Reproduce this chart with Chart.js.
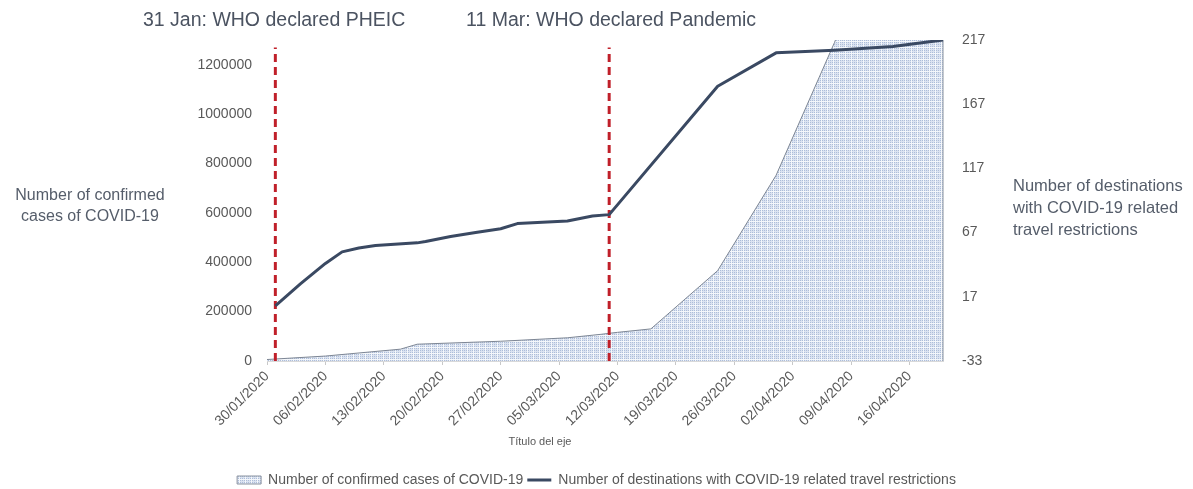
<!DOCTYPE html>
<html>
<head>
<meta charset="utf-8">
<script src="https://cdn.jsdelivr.net/npm/chart.js@4.4.1/dist/chart.umd.min.js"></script>
<style>
  html, body { margin: 0; padding: 0; background: #fff; }
  #wrap { width: 1193px; height: 489px; position: relative; }
</style>
</head>
<body>
<div id="wrap"><canvas id="chart"></canvas></div>
<script>
// daily categories of the date axis
const dates = [
    '30/01/2020', '31/01/2020',
    '01/02/2020', '02/02/2020', '03/02/2020', '04/02/2020', '05/02/2020', '06/02/2020', '07/02/2020',
    '08/02/2020', '09/02/2020', '10/02/2020', '11/02/2020', '12/02/2020', '13/02/2020', '14/02/2020',
    '15/02/2020', '16/02/2020', '17/02/2020', '18/02/2020', '19/02/2020', '20/02/2020', '21/02/2020',
    '22/02/2020', '23/02/2020', '24/02/2020', '25/02/2020', '26/02/2020', '27/02/2020', '28/02/2020',
    '29/02/2020',
    '01/03/2020', '02/03/2020', '03/03/2020', '04/03/2020', '05/03/2020', '06/03/2020', '07/03/2020',
    '08/03/2020', '09/03/2020', '10/03/2020', '11/03/2020', '12/03/2020', '13/03/2020', '14/03/2020',
    '15/03/2020', '16/03/2020', '17/03/2020', '18/03/2020', '19/03/2020', '20/03/2020', '21/03/2020',
    '22/03/2020', '23/03/2020', '24/03/2020', '25/03/2020', '26/03/2020', '27/03/2020', '28/03/2020',
    '29/03/2020', '30/03/2020', '31/03/2020',
    '01/04/2020', '02/04/2020', '03/04/2020', '04/04/2020', '05/04/2020', '06/04/2020', '07/04/2020',
    '08/04/2020', '09/04/2020', '10/04/2020', '11/04/2020', '12/04/2020', '13/04/2020', '14/04/2020',
    '15/04/2020', '16/04/2020', '17/04/2020', '18/04/2020', '19/04/2020', '20/04/2020'
];

// confirmed cases (left axis)
const casesDates = ['30/01/2020', '06/02/2020', '15/02/2020', '17/02/2020', '27/02/2020', '06/03/2020', '10/03/2020',
    '12/03/2020', '16/03/2020', '24/03/2020', '31/03/2020', '07/04/2020', '14/04/2020', '20/04/2020'];
const casesValues = [6000, 20000, 48000, 68000, 80000, 94000, 108000,
    116000, 130000, 366000, 752000, 1290000, 1900000, 2400000];

// destinations with travel restrictions (right axis)
const destDates = ['31/01/2020', '03/02/2020', '06/02/2020', '08/02/2020', '10/02/2020', '12/02/2020', '17/02/2020',
    '18/02/2020', '21/02/2020', '24/02/2020', '27/02/2020', '29/02/2020', '06/03/2020', '09/03/2020', '11/03/2020',
    '24/03/2020', '31/03/2020', '07/04/2020', '14/04/2020', '20/04/2020'];
const destValues = [10, 27, 43, 52, 55, 57, 59,
    60, 64, 67, 70, 74, 76, 80, 81,
    181, 207, 209, 212, 217];

// axis ticks
const leftTicks = [0, 200000, 400000, 600000, 800000, 1000000, 1200000];
const rightTicks = [-33, 17, 67, 117, 167, 217];

// event markers
const eventDates = ['31/01/2020', '11/03/2020'];
const eventTexts = ['31 Jan: WHO declared PHEIC', '11 Mar: WHO declared Pandemic'];
const eventTop = 1270000;

const casesLabel = 'Number of confirmed cases of COVID-19';
const destLabel = 'Number of destinations with COVID-19 related travel restrictions';
const leftTitle = ['Number of confirmed', 'cases of COVID-19'];
const rightTitle = ['Number of destinations', 'with COVID-19 related', 'travel restrictions'];
const xTitle = 'Título del eje';

const NAVY = '#3a4962';
const RED = '#c0202a';
const TEXT = '#595959';
const NOTE = '#4b5361';
const FONT = '"Liberation Sans", Arial, sans-serif';

Chart.defaults.font.family = FONT;

function makePattern() {
    const c = document.createElement('canvas');
    c.width = 6;
    c.height = 6;
    const g = c.getContext('2d');
    g.fillStyle = '#dbe3f1';
    g.fillRect(0, 0, 6, 6);
    g.fillStyle = '#adbdd9';
    for (let x = 0; x < 5; x += 2) {
        for (let y = 0; y < 5; y += 2) g.fillRect(x, y, 1, 1);
    }
    g.fillStyle = '#f4f7fb';
    g.fillRect(5, 0, 1, 6);
    g.fillRect(0, 5, 6, 1);
    return g.createPattern(c, 'repeat');
}
const dots = makePattern();

const toPoints = (xs, ys) => xs.map((d, i) => ({ x: d, y: ys[i] }));

const datasets = [
    {
        label: destLabel,
        data: toPoints(destDates, destValues),
        yAxisID: 'y1',
        borderColor: NAVY,
        backgroundColor: NAVY,
        borderWidth: 3,
        borderJoinStyle: 'round',
        pointRadius: 0,
        fill: false,
        order: 0
    },
    ...eventDates.map(d => ({
        label: 'event',
        data: [{ x: d, y: 0 }, { x: d, y: eventTop }],
        yAxisID: 'y',
        borderColor: RED,
        borderWidth: 3,
        borderDash: [8, 5],
        pointRadius: 0,
        fill: false,
        order: 1
    })),
    {
        label: casesLabel,
        data: toPoints(casesDates, casesValues),
        yAxisID: 'y',
        borderColor: '#7d8694',
        borderWidth: 1,
        backgroundColor: dots,
        pointRadius: 0,
        fill: 'origin',
        order: 2
    }
];

const textPlugin = {
    id: 'texts',
    afterLayout(chart) {
        // push the legend row a little lower, like the original
        chart.legend.top += 8;
        chart.legend.bottom += 8;
    },
    afterDatasetDraw(chart, args) {
        // closing vertical edge of the area
        if (args.meta.label !== casesLabel) return;
        const pts = args.meta.data;
        const last = pts[pts.length - 1];
        const ctx = chart.ctx;
        const area = chart.chartArea;
        ctx.save();
        ctx.strokeStyle = '#8a93a0';
        ctx.lineWidth = 1;
        ctx.beginPath();
        ctx.moveTo(last.x, Math.max(last.y, area.top));
        ctx.lineTo(last.x, chart.scales.y.getPixelForValue(0));
        ctx.stroke();
        ctx.restore();
    },
    afterDraw(chart) {
        const ctx = chart.ctx;
        ctx.save();
        ctx.textBaseline = 'middle';
        ctx.fillStyle = NOTE;
        ctx.font = '19.5px ' + FONT;
        ctx.textAlign = 'left';
        ctx.fillText(eventTexts[0], 143, 21);
        ctx.fillText(eventTexts[1], 466, 21);

        ctx.fillStyle = '#555d6a';
        ctx.font = '16px ' + FONT;
        ctx.textAlign = 'center';
        leftTitle.forEach((t, i) => ctx.fillText(t, 90, 196 + i * 21));
        ctx.font = '16.5px ' + FONT;
        ctx.textAlign = 'left';
        rightTitle.forEach((t, i) => ctx.fillText(t, 1013, 186 + i * 22));

        ctx.fillStyle = TEXT;
        ctx.font = '11px ' + FONT;
        ctx.textAlign = 'center';
        ctx.fillText(xTitle, 540, 442);
        ctx.restore();
    }
};

new Chart(document.getElementById('chart'), {
    type: 'line',
    data: { labels: dates, datasets: datasets },
    options: {
        responsive: true,
        maintainAspectRatio: false,
        animation: false,
        layout: { padding: { top: 40, bottom: 0, left: 0, right: 0 } },
        plugins: {
            tooltip: { enabled: false },
            legend: {
                position: 'bottom',
                labels: {
                    usePointStyle: true,
                    pointStyleWidth: 24,
                    boxHeight: 8,
                    padding: 4,
                    color: TEXT,
                    font: { size: 14 },
                    generateLabels: () => [
                        { text: casesLabel, fillStyle: dots, strokeStyle: '#8a93a0', lineWidth: 1, pointStyle: 'rect', hidden: false, datasetIndex: 3, fontColor: TEXT },
                        { text: destLabel, fillStyle: NAVY, strokeStyle: NAVY, lineWidth: 3, pointStyle: 'line', hidden: false, datasetIndex: 0, fontColor: TEXT }
                    ]
                }
            }
        },
        scales: {
            x: {
                type: 'category',
                offset: false,
                grid: {
                    drawOnChartArea: false,
                    drawTicks: true,
                    tickLength: 4,
                    color: c => (c.index % 7 === 0 ? '#c8c8c8' : 'rgba(0,0,0,0)')
                },
                border: { display: true, color: '#d9d9d9' },
                ticks: {
                    autoSkip: false,
                    maxRotation: 45,
                    minRotation: 45,
                    padding: 3,
                    color: TEXT,
                    font: { size: 14 },
                    callback: (v, i) => (i % 7 === 0 ? dates[i] : '')
                },
                afterFit: s => { s.height = 100; }
            },
            y: {
                position: 'left',
                min: 0,
                max: 1300000,
                grid: { display: false },
                border: { display: false },
                ticks: {
                    padding: 7,
                    color: TEXT,
                    font: { size: 14 },
                    callback: v => String(v)
                },
                afterBuildTicks: s => { s.ticks = leftTicks.map(v => ({ value: v })); },
                afterFit: s => { s.width = 267; }
            },
            y1: {
                position: 'right',
                min: -33,
                max: 217,
                grid: { display: false },
                border: { display: false },
                ticks: {
                    padding: 11,
                    color: TEXT,
                    font: { size: 14 },
                    callback: v => String(v)
                },
                afterBuildTicks: s => { s.ticks = rightTicks.map(v => ({ value: v })); },
                afterFit: s => { s.width = 250; }
            }
        }
    },
    plugins: [textPlugin]
});
</script>
</body>
</html>
